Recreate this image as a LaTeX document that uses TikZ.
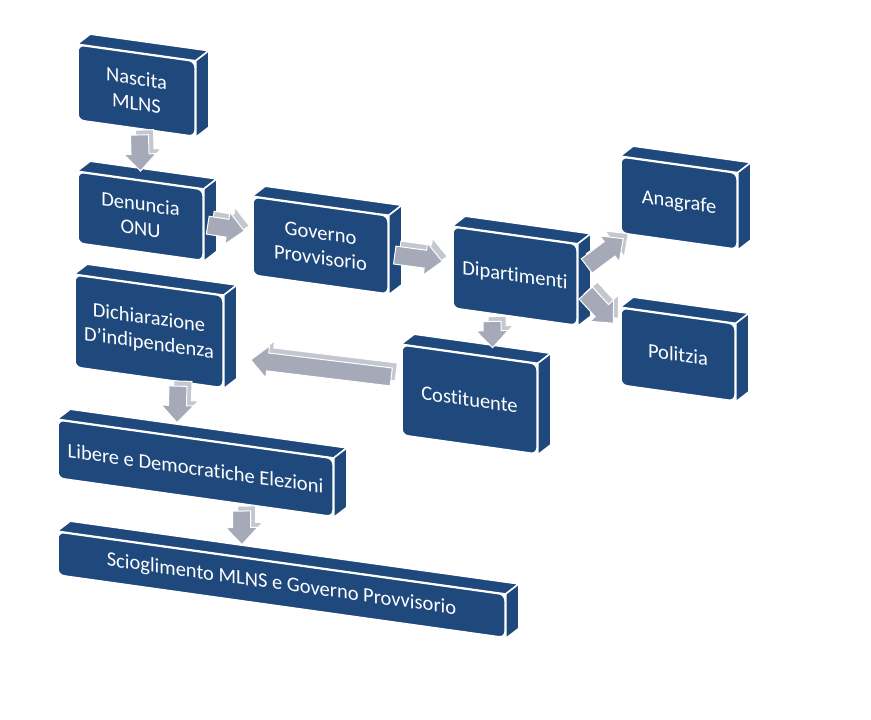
\documentclass[tikz,border=0pt]{standalone}
\usepackage{fontspec}
\setmainfont[Ligatures=NoCommon]{Carlito}
\usepackage{tikz}
\usetikzlibrary{calc,backgrounds}

\definecolor{boxblue}{RGB}{31,73,125}
\definecolor{arrowgray}{RGB}{165,169,184}
\definecolor{arrowlight}{RGB}{196,199,208}

% top and right face of a box
\newcommand\sides[1]{%
	\filldraw[face] (#1.north west) -- ++(13,-10) -- ($(#1.north east)+(13,-10)$) -- (#1.north east) -- cycle;
	\filldraw[face] (#1.north east) -- ++(13,-10) -- ($(#1.south east)+(13,-10)$) -- (#1.south east) -- cycle;}

% block arrow: start, end, head base, style
\newcommand\arrowpoly[4]{%
	\filldraw[#4] ($(#1)!9pt!90:(#2)$) -- ($(#3)!9pt!90:(#2)$) -- ($(#3)!16pt!90:(#2)$) -- (#2)
		-- ($(#3)!16pt!-90:(#2)$) -- ($(#3)!9pt!-90:(#2)$) -- ($(#1)!9pt!-90:(#2)$) -- cycle;}

\newcommand\blockarrow[2]{%
	\path (#1) coordinate (bs) (#2) coordinate (be);
	\path ($(be)!17pt!(bs)$) coordinate (bh)
		($(bs)+(5,-5)$) coordinate (ts) ($(be)+(5,-5)$) coordinate (te) ($(bh)+(5,-5)$) coordinate (th);
	\arrowpoly{ts}{te}{th}{arrowback}
	\arrowpoly{bs}{be}{bh}{arrowfront}}

\begin{document}
\begin{tikzpicture}[x=1pt,y=-1pt,
	cube/.style={rectangle,rounded corners=6pt,fill=boxblue,draw=white,line width=1.5pt,
		text=white,align=center,inner sep=2pt,yslant=-0.14,font=\fontsize{20.5}{25}\selectfont},
	face/.style={fill=boxblue,draw=white,line width=1.5pt},
	arrowfront/.style={fill=arrowgray,draw=white,line width=1pt},
	arrowback/.style={fill=arrowlight,draw=white,line width=1pt}]
	\useasboundingbox (0,0) rectangle (871,720);

	\node[cube,minimum width=117pt,minimum height=75pt] (nascita) at (136.5,90.7) {Nascita\\MLNS};
	\node[cube,minimum width=125pt,minimum height=71pt] (denuncia) at (140.5,216.3) {Denuncia\\ONU};
	\node[cube,minimum width=148pt,minimum height=92pt] (dichiarazione) at (149,331.4) {Dichiarazione\\D’indipendenza};
	\node[cube,minimum width=135pt,minimum height=78pt] (governo) at (320.5,245.5) {Governo\\Provvisorio};
	\node[cube,minimum width=124pt,minimum height=81pt] (dipartimenti) at (515,276.2) {Dipartimenti};
	\node[cube,minimum width=116pt,minimum height=76pt] (anagrafe) at (679,203.1) {Anagrafe};
	\node[cube,minimum width=114pt,minimum height=77pt] (politzia) at (678,354.5) {Politzia};
	\node[cube,minimum width=135pt,minimum height=90pt] (costituente) at (469.5,399.5) {Costituente};
	\node[cube,minimum width=275pt,minimum height=58pt] (libere) at (195.5,468.3) {Libere e Democratiche Elezioni};
	\node[cube,minimum width=447pt,minimum height=43pt] (scioglimento) at (281.5,584.8) {Scioglimento MLNS e Governo Provvisorio};

	\begin{scope}[on background layer]
		\foreach \n in {nascita,denuncia,dichiarazione,governo,dipartimenti,anagrafe,politzia,costituente,libere,scioglimento}
			{\sides{\n}}
	\end{scope}

	\blockarrow{$(nascita.south)+(3,6)$}{$(denuncia.north)+(0,-9)$}
	\blockarrow{$(denuncia.east)+(4,0)$}{$(governo.west)+(-8,-5)$}
	\blockarrow{$(governo.east)+(6,0)$}{$(dipartimenti.west)+(-10,-6)$}
	\blockarrow{$(dipartimenti.east)+(9,-19)$}{$(anagrafe.south west)+(3,5)$}
	\blockarrow{$(dipartimenti.east)+(8,8)$}{$(politzia.north west)+(-7,16)$}
	\blockarrow{$(dipartimenti.south)+(-23,4)$}{$(costituente.north)+(23,-6)$}
	\blockarrow{$(costituente.west)+(-10,-13)$}{$(dichiarazione.east)+(27,18)$}
	\blockarrow{$(dichiarazione.south)+(29,8)$}{$(libere.north)+(-18.5,-16)$}
	\blockarrow{$(libere.south)+(46,13)$}{$(scioglimento.north)+(-39.5,-18)$}
\end{tikzpicture}
\end{document}
